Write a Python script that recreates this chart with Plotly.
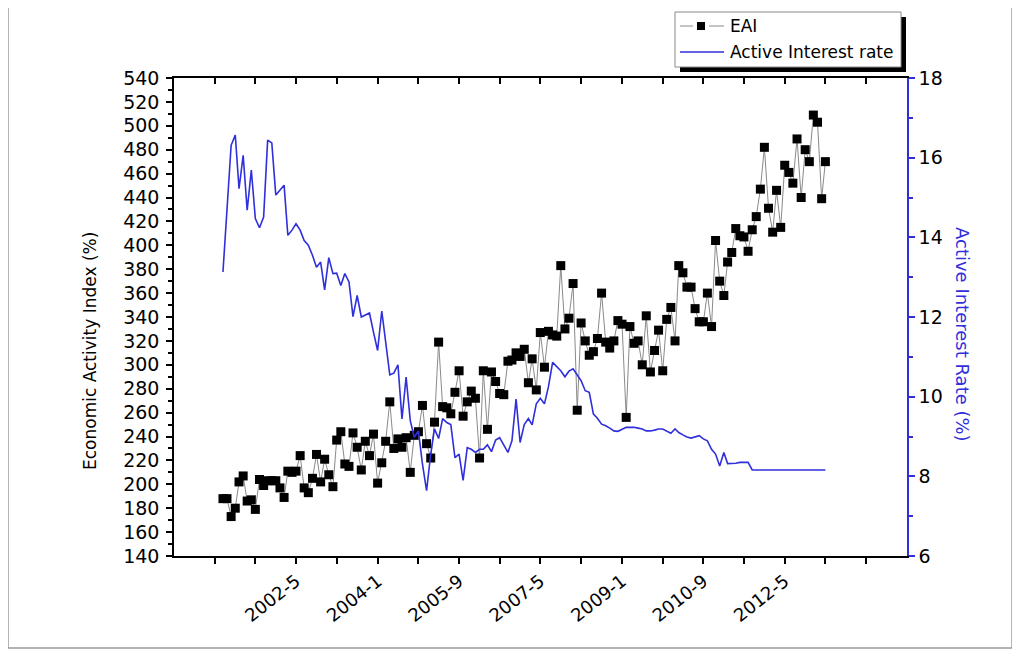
import pandas as pd
import plotly.graph_objects as go

# ---------------- data ----------------
months = pd.date_range("2000-11-01", periods=149, freq="MS")

eai = [188, 188, 173, 180, 202, 207, 186, 187, 179, 204,
       199, 203, 203, 203, 197, 189, 211, 210, 211, 224,
       197, 193, 205, 225, 202, 221, 208, 198, 237, 244,
       217, 215, 243, 231, 212, 236, 224, 242, 201, 218,
       236, 269, 230, 238, 231, 239, 210, 241, 244, 266,
       234, 222, 252, 319, 265, 264, 259, 277, 295, 257,
       269, 278, 272, 222, 295, 246, 294, 286, 276, 275,
       303, 304, 310, 307, 313, 285, 305, 279, 327, 298,
       328, 325, 324, 383, 330, 339, 368, 262, 335, 320,
       308, 311, 322, 360, 319, 314, 320, 337, 334, 256,
       332, 318, 320, 300, 341, 294, 312, 329, 295, 338,
       348, 320, 383, 377, 365, 365, 347, 336, 336, 360,
       332, 404, 370, 358, 386, 394, 414, 408, 407, 395,
       413, 424, 447, 482, 431, 411, 446, 415, 467, 461,
       452, 489, 440, 480, 470, 509, 503, 439, 470]

rate = [13.13, 14.70, 16.31, 16.57, 15.22, 16.06, 14.68, 15.69, 14.47, 14.24,
        14.51, 16.44, 16.37, 15.06, 15.18, 15.31, 14.05, 14.18, 14.34, 14.18,
        13.92, 13.80, 13.55, 13.25, 13.38, 12.68, 13.49, 13.09, 13.10, 12.79,
        13.09, 12.88, 12.01, 12.54, 12.00, 12.04, 12.10, 11.62, 11.16, 12.15,
        11.41, 10.55, 10.59, 10.80, 9.44, 10.49, 9.40, 8.98, 9.14, 8.31,
        7.64, 8.56, 9.19, 8.95, 9.45, 9.35, 9.30, 8.47, 8.56, 7.90,
        8.72, 8.68, 8.60, 8.68, 8.68, 8.79, 8.62, 8.91, 8.97, 8.79,
        8.60, 8.89, 9.94, 8.85, 9.30, 9.45, 9.29, 9.82, 9.96, 9.82,
        10.25, 10.86, 10.76, 10.65, 10.50, 10.64, 10.70, 10.53, 10.40, 10.15,
        10.11, 9.56, 9.46, 9.31, 9.27, 9.21, 9.14, 9.13, 9.19, 9.23,
        9.23, 9.23, 9.21, 9.19, 9.14, 9.14, 9.16, 9.19, 9.19, 9.14,
        9.08, 9.19, 9.10, 9.04, 8.99, 8.96, 8.99, 9.02, 8.94, 8.89,
        8.68, 8.56, 8.26, 8.60, 8.32, 8.32, 8.33, 8.35, 8.35, 8.35,
        8.16, 8.16, 8.16, 8.16, 8.16, 8.16, 8.16, 8.16, 8.16, 8.16,
        8.16, 8.16, 8.16, 8.16, 8.16, 8.16, 8.16, 8.16, 8.16]

x_labels = ["2002-5", "2004-1", "2005-9", "2007-5", "2009-1", "2010-9", "2012-5"]
x_tick_dates = pd.date_range("2000-09-01", periods=17, freq="10MS")
x_range = ["1999-11-01", "2014-11-01"]
left_range = [140, 540]
right_range = [6, 18]

series_names = ["EAI", "Active Interest rate"]
left_title = "Economic Activity Index (%)"
right_title = "Active Interest Rate (%)"

# ---------------- style ----------------
FONT = "DejaVu Sans"
BLUE = "#2f2fdc"
OFF = 8                      # page body margin of the html page
W, H = 1020 - OFF, 653 - OFF
# target page-pixel positions of the plot area
PL, PR, PT, PB = 174, 907, 78, 556
L, R, T, B = PL - OFF, W - (PR - OFF), PT - OFF, H - (PB - OFF)
PW, PH = W - L - R, H - T - B


def px(x):
    """page pixel x -> paper fraction"""
    return (x - OFF - L) / PW


def py(y):
    """page pixel y -> paper fraction"""
    return (H - B - (y - OFF)) / PH


ticktext = []
for d in x_tick_dates:
    lab = f"{d.year}-{d.month}"
    ticktext.append(lab if lab in x_labels else "")

fig = go.Figure()

fig.add_trace(go.Scatter(
    x=months, y=rate, name=series_names[1], mode="lines",
    line=dict(color=BLUE, width=1.6), yaxis="y2", showlegend=False))

fig.add_trace(go.Scatter(
    x=months, y=eai, name=series_names[0], mode="lines+markers",
    line=dict(color="#8a8a8a", width=1),
    marker=dict(symbol="square", size=9, color="black"),
    showlegend=False))

# empty trace to carry the top axis
fig.add_trace(go.Scatter(x=[], y=[], xaxis="x2", showlegend=False))

fig.update_layout(
    width=W, height=H,
    margin=dict(l=L, r=R, t=T, b=B),
    paper_bgcolor="white", plot_bgcolor="white",
    font=dict(family=FONT, size=16, color="black"),
    xaxis=dict(
        type="date", range=x_range,
        tickmode="array", tickvals=list(x_tick_dates), ticktext=ticktext,
        tickangle=-38, tickfont=dict(size=18),
        ticks="outside", ticklen=6, tickwidth=1.5, tickcolor="black",
        showline=True, linecolor="black", linewidth=1.5,
        showgrid=False, zeroline=False),
    xaxis2=dict(
        type="date", range=x_range, overlaying="x", side="top",
        tickmode="array", tickvals=list(x_tick_dates), showticklabels=False,
        ticks="inside", ticklen=6, tickwidth=1.5, tickcolor="black",
        showline=True, linecolor="black", linewidth=1.5,
        showgrid=False, zeroline=False),
    yaxis=dict(
        range=left_range, dtick=20, tick0=140,
        ticks="outside", ticklen=6, tickwidth=1.5, tickcolor="black",
        minor=dict(dtick=10, ticks="outside", ticklen=4, tickcolor="black"),
        tickfont=dict(size=19), ticklabelstandoff=3,
        showline=True, linecolor="black", linewidth=1.5,
        showgrid=False, zeroline=False),
    yaxis2=dict(
        range=right_range, dtick=2, tick0=6, overlaying="y", side="right",
        ticks="outside", ticklen=6, tickwidth=1.5, tickcolor=BLUE,
        minor=dict(dtick=1, ticks="outside", ticklen=4, tickcolor=BLUE),
        tickfont=dict(size=19, color="black"),
        showline=True, linecolor=BLUE, linewidth=1.5,
        showgrid=False, zeroline=False),
)

# axis titles
fig.add_annotation(x=px(90), y=py(351), xref="paper", yref="paper",
                   xanchor="center", yanchor="middle",
                   text=left_title, textangle=-90, showarrow=False,
                   font=dict(size=17, color="black"))
fig.add_annotation(x=px(963), y=py(334), xref="paper", yref="paper",
                   xanchor="center", yanchor="middle",
                   text=right_title, textangle=90, showarrow=False,
                   font=dict(size=18, color=BLUE))

# outer frame
fig.add_shape(type="rect", xref="paper", yref="paper",
              x0=px(8), x1=px(1012), y0=py(648), y1=py(5),
              line=dict(color="#9a9a9a", width=1.5), layer="below")

# legend (drawn manually to reproduce the shadowed box)
fig.add_shape(type="rect", xref="paper", yref="paper",
              x0=px(680), x1=px(906), y0=py(72), y1=py(17),
              fillcolor="black", line=dict(width=0))
fig.add_shape(type="rect", xref="paper", yref="paper",
              x0=px(675), x1=px(901), y0=py(67), y1=py(12),
              fillcolor="white", line=dict(color="#8a8a8a", width=1))
fig.add_shape(type="line", xref="paper", yref="paper",
              x0=px(680), x1=px(693), y0=py(26), y1=py(26),
              line=dict(color="#8a8a8a", width=1))
fig.add_shape(type="line", xref="paper", yref="paper",
              x0=px(709), x1=px(724), y0=py(26), y1=py(26),
              line=dict(color="#8a8a8a", width=1))
fig.add_shape(type="rect", xref="paper", yref="paper",
              x0=px(697), x1=px(705), y0=py(30), y1=py(22),
              fillcolor="black", line=dict(width=0))
fig.add_shape(type="line", xref="paper", yref="paper",
              x0=px(680), x1=px(724), y0=py(52), y1=py(52),
              line=dict(color=BLUE, width=1.5))
fig.add_annotation(x=px(728), y=py(26), xref="paper", yref="paper",
                   text=series_names[0], showarrow=False,
                   xanchor="left", yanchor="middle",
                   font=dict(size=17, color="black"))
fig.add_annotation(x=px(728), y=py(52), xref="paper", yref="paper",
                   text=series_names[1], showarrow=False,
                   xanchor="left", yanchor="middle",
                   font=dict(size=17, color="black"))

fig.write_html("out.html")
